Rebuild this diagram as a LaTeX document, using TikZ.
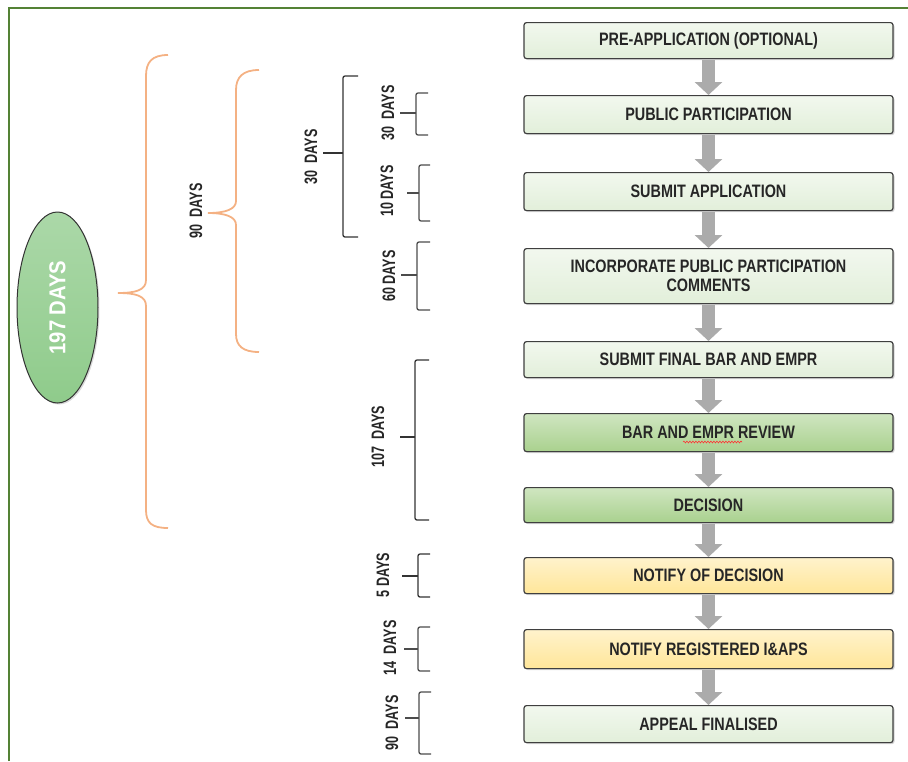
\documentclass[tikz,border=0pt]{standalone}
\usepackage{fontspec}
\setmainfont{Liberation Sans}
\newfontfamily\narrowfont{Liberation Sans}[FakeStretch=0.80]
\newfontfamily\labelfont{Liberation Sans}[FakeStretch=0.70]
\newfontfamily\ovalfont{Liberation Sans}[FakeStretch=0.88]
\usetikzlibrary{arrows.meta,shadows,decorations.pathmorphing,shapes.geometric}
\definecolor{frameGreen}{HTML}{548235}
\definecolor{lightGreen}{HTML}{E2EFDA}
\definecolor{midGreen}{HTML}{A9D18E}
\definecolor{lightYellow}{HTML}{FFE699}
\definecolor{ovalGreen}{HTML}{8FCB8B}
\definecolor{braceOrange}{HTML}{F4B183}
\definecolor{arrowGray}{HTML}{ABABAB}
\definecolor{boxEdge}{HTML}{3F3F3F}
\tikzset{
  stepbox/.style={draw=boxEdge, line width=1.2pt, rounded corners=2.5pt,
    minimum width=369pt, anchor=north, align=center,
    font=\narrowfont\bfseries\fontsize{18}{20}\selectfont, text=black!85,
    drop shadow={shadow xshift=1.5pt, shadow yshift=-1.5pt, opacity=0.35}},
  pale/.style={stepbox, top color=lightGreen!45, bottom color=lightGreen},
  mid/.style={stepbox, top color=midGreen!55, bottom color=midGreen},
  yel/.style={stepbox, top color=lightYellow!50, bottom color=lightYellow},
  flow/.style={draw=arrowGray, line width=13pt,
    -{Triangle[width=27pt,length=13pt]}, shorten >=0pt},
  dlabel/.style={rotate=90, font=\labelfont\bfseries\fontsize{18}{20}\selectfont, text=black!85},
  bracket/.style={draw=black!80, line width=1.3pt, rounded corners=2pt},
  obrace/.style={draw=braceOrange, line width=1.8pt},
}
\begin{document}
\begin{tikzpicture}[x=1pt,y=-1pt]
\useasboundingbox (0,0) rectangle (908,761);
% frame
\draw[frameGreen, line width=2pt] (9,761) -- (9,7.5) -- (908,7.5);

% step boxes
\node[pale, minimum height=36pt] (b1) at (708.5,22) {PRE-APPLICATION (OPTIONAL)};
\node[pale, minimum height=38pt] (b2) at (708.5,95) {PUBLIC PARTICIPATION};
\node[pale, minimum height=38pt] (b3) at (708.5,172) {SUBMIT APPLICATION};
\node[pale, minimum height=55pt] (b4) at (708.5,248) {INCORPORATE PUBLIC PARTICIPATION\\[-1pt]COMMENTS};
\node[pale, minimum height=36pt] (b5) at (708.5,341) {SUBMIT FINAL BAR AND EMPR};
\node[mid, minimum height=38pt] (b6) at (708.5,413) {BAR AND EMPR REVIEW};
\node[mid, minimum height=35pt] (b7) at (708.5,487) {DECISION};
\node[yel, minimum height=36pt] (b8) at (708.5,557) {NOTIFY OF DECISION};
\node[yel, minimum height=39pt] (b9) at (708.5,629) {NOTIFY REGISTERED I\&APS};
\node[pale, minimum height=37pt] (b10) at (708.5,705) {APPEAL FINALISED};

% spell-check squiggle under EMPR
\coordinate (sq1) at (683,442);
\coordinate (sq2) at (742,442);
\draw[red!80, line width=0.6pt, decorate, decoration={snake, amplitude=0.9pt, segment length=3pt}] (sq1) -- (sq2);

% arrows
\foreach \a/\b in {b1/b2,b2/b3,b3/b4,b4/b5,b5/b6,b6/b7,b7/b8,b8/b9,b9/b10}
  \draw[flow] ([yshift=-1pt]\a.south) -- (\b.north);

% oval
\node[ellipse, draw=black!80, line width=1pt, minimum width=81pt, minimum height=191pt,
  inner sep=0pt, top color=ovalGreen!75, bottom color=ovalGreen, shading angle=0,
  drop shadow={shadow xshift=1.5pt, shadow yshift=-1.5pt, opacity=0.3}] (oval) at (57.5,307.5) {};
\node[rotate=90, text=white, font=\ovalfont\bfseries\fontsize{23}{25}\selectfont] (ovaltext) at (oval.center) {197 DAYS};

% orange braces
\draw[obrace] (168,55) .. controls (152,55) and (146,62) .. (146,76) -- (146,280)
  .. controls (146,290) and (136,293) .. (118,293)
  .. controls (136,293) and (146,296) .. (146,306) -- (146,510)
  .. controls (146,523) and (152,528) .. (168,528);
\draw[obrace] (259,70) .. controls (243,70) and (236,77) .. (236,90) -- (236,201)
  .. controls (236,209) and (226,213) .. (208,213)
  .. controls (226,213) and (236,217) .. (236,225) -- (236,334)
  .. controls (236,346) and (243,352) .. (259,352);
\node[dlabel] (l90a) at (196,211) {90\ \ DAYS};

% black brackets
\draw[bracket] (358,76) -- (343,76) -- (343,237) -- (358,237);
\draw[bracket] (343,153) -- (323,153);
\node[dlabel] (l30a) at (311,157) {30\ \ DAYS};

\draw[bracket, black!70] (428,93) -- (416,93) -- (416,135) -- (428,135);
\draw[bracket, black!70] (416,113) -- (400,113);
\node[dlabel] (l30b) at (388,113) {30\ \ DAYS};

\draw[bracket, black!70] (430,165) -- (419,165) -- (419,221) -- (430,221);
\draw[bracket, black!70] (419,193) -- (407,193);
\node[dlabel] (l10) at (387,191) {10 DAYS};

\draw[bracket, black!70] (430,242) -- (417,242) -- (417,310) -- (430,310);
\draw[bracket, black!70] (417,275) -- (401,275);
\node[dlabel] (l60) at (389,276) {60 DAYS};

\draw[bracket] (429,360) -- (415,360) -- (415,520) -- (429,520);
\draw[bracket] (415,437) -- (400,437);
\node[dlabel] (l107) at (378,437) {107\ \ DAYS};

\draw[bracket] (430,554) -- (418,554) -- (418,597) -- (430,597);
\draw[bracket] (418,576) -- (402,576);
\node[dlabel] (l5) at (383,575) {5 DAYS};

\draw[bracket, black!70] (430,627) -- (418,627) -- (418,671) -- (430,671);
\draw[bracket, black!70] (418,649) -- (404,649);
\node[dlabel] (l14) at (390,648) {14\ \ DAYS};

\draw[bracket, black!70] (431,692) -- (419,692) -- (419,754) -- (431,754);
\draw[bracket, black!70] (419,718) -- (405,718);
\node[dlabel] (l90b) at (392,723) {90\ \ DAYS};
\end{tikzpicture}
\end{document}
